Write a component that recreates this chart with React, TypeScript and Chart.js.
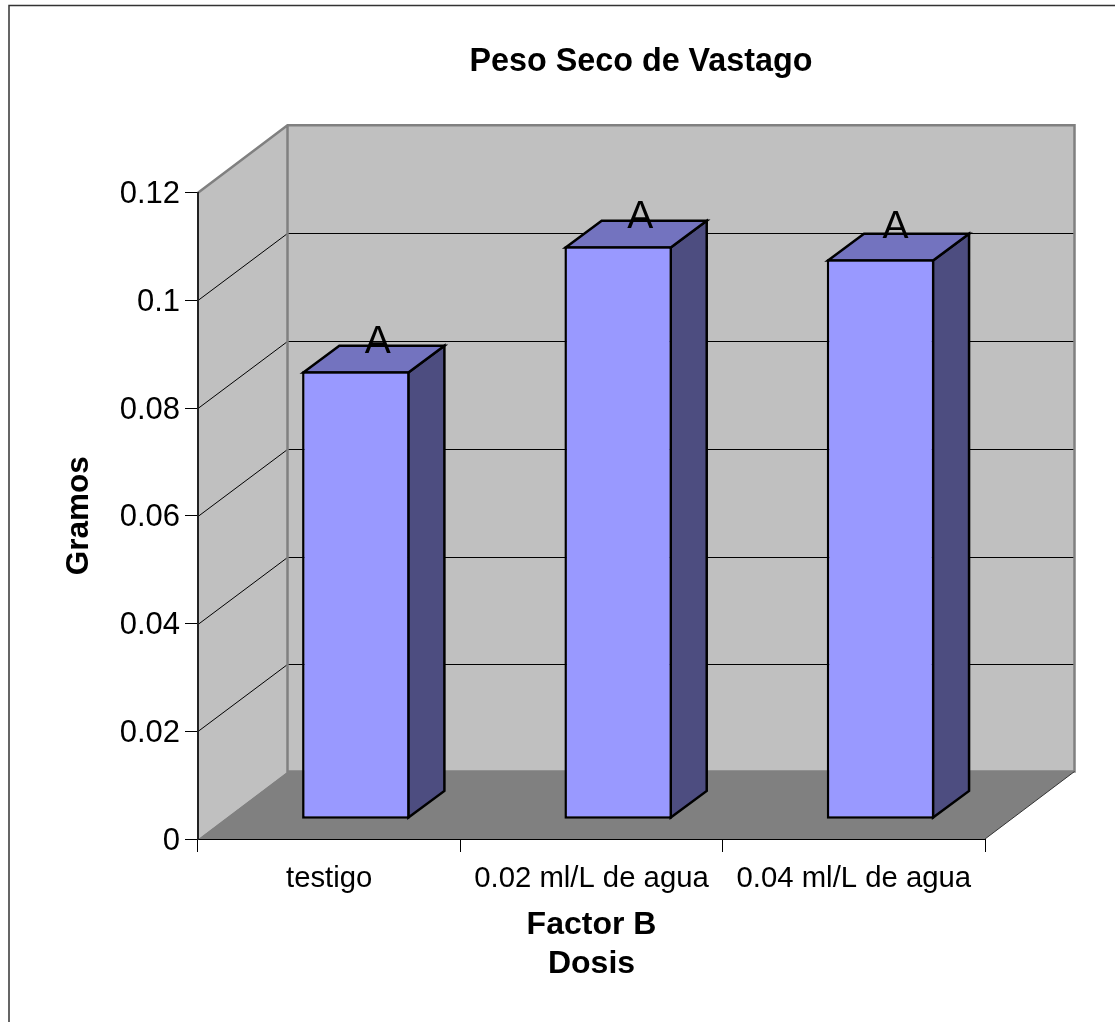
import React, { useEffect, useRef } from "react";
import { Chart, registerables } from "chart.js";

Chart.register(...registerables);

const categories = ["testigo", "0.02 ml/L de agua", "0.04 ml/L de agua"];
const pesoSeco = [0.0832, 0.1064, 0.104];
const letters = ["A", "A", "A"];
const titleText = "Peso Seco de Vastago";
const yTitle = "Gramos";
const xTitle = ["Factor B", "Dosis"];

const FONT = '"Liberation Sans", Arial, sans-serif';
const WALL = "#c0c0c0";
const FLOOR = "#808080";
const EDGE = "#808080";
const FRONT = "#9999ff";
const TOP = "#7373bf";
const SIDE = "#4d4d80";

// 3D projection offsets
const DEPTH_X = 89.5;
const DEPTH_Y = -67.5;
const BAR_SHIFT_X = 26.7;
const BAR_SHIFT_Y = -19.7;
const BAR_DEPTH_X = 36;
const BAR_DEPTH_Y = -26.6;
const BORDER = 2.5;
// where each letter sits relative to the front face of its bar
const letterShiftX = [22, 22, 15];
const letterShiftY = [-19.6, -19, -22.3];

function poly(ctx: CanvasRenderingContext2D, pts: number[][], fill?: string, stroke?: string, lw = 1) {
  ctx.beginPath();
  pts.forEach((p, i) => (i ? ctx.lineTo(p[0], p[1]) : ctx.moveTo(p[0], p[1])));
  ctx.closePath();
  if (fill) {
    ctx.fillStyle = fill;
    ctx.fill();
  }
  if (stroke) {
    ctx.strokeStyle = stroke;
    ctx.lineWidth = lw;
    ctx.lineJoin = "miter";
    ctx.stroke();
  }
}

const walls3d = {
  id: "walls3d",
  beforeDraw(chart: any) {
    const { ctx, chartArea: a, scales } = chart;
    const { left: l, right: r, top: t, bottom: b } = a;
    const dx = DEPTH_X;
    const dy = DEPTH_Y;

    // numeric labels sit level with their ticks
    if (!chart.$labelsShifted) {
      chart.$labelsShifted = true;
      for (const item of scales.y.getLabelItems()) {
        item.options.translation[1] += 2;
      }
    }

    ctx.save();
    // outer frame
    ctx.strokeStyle = "#333333";
    ctx.lineWidth = 1.5;
    ctx.strokeRect(9, 5.5, 1200, 1200);

    // back wall
    poly(ctx, [[l + dx, t + dy], [r + dx, t + dy], [r + dx, b + dy], [l + dx, b + dy]], WALL);
    // left wall
    poly(ctx, [[l, t], [l + dx, t + dy], [l + dx, b + dy], [l, b]], WALL);
    // floor
    poly(ctx, [[l, b], [l + dx, b + dy], [r + dx, b + dy], [r, b]], FLOOR);

    // grid lines
    ctx.strokeStyle = "#000000";
    ctx.lineWidth = 1;
    for (const tick of scales.y.ticks) {
      if (tick.value <= 0 || tick.value >= 0.12) continue;
      const y = Math.round(scales.y.getPixelForValue(tick.value)) + 0.5;
      const yBack = Math.floor(y + dy) + 0.5;
      ctx.beginPath();
      ctx.moveTo(l, y);
      ctx.lineTo(l + dx, yBack);
      ctx.lineTo(r + dx, yBack);
      ctx.stroke();
    }

    // wall edges
    ctx.strokeStyle = EDGE;
    ctx.lineWidth = 2.5;
    ctx.beginPath();
    ctx.moveTo(l, t);
    ctx.lineTo(l + dx, t + dy);
    ctx.lineTo(r + dx, t + dy);
    ctx.lineTo(r + dx, b + dy);
    ctx.lineTo(l + dx, b + dy);
    ctx.lineTo(l + dx, t + dy);
    ctx.stroke();

    ctx.strokeStyle = "#333333";
    ctx.lineWidth = 1;
    ctx.beginPath();
    ctx.moveTo(r, b);
    ctx.lineTo(r + dx, b + dy);
    ctx.stroke();
    ctx.restore();
  },
  beforeDatasetDraw(chart: any, args: any) {
    const { ctx } = chart;
    const meta = chart.getDatasetMeta(args.index);
    ctx.save();
    const inset = BORDER / 2;
    for (const el of meta.data) {
      const hw = el.width / 2 - inset;
      const x0 = el.x - hw + BAR_SHIFT_X;
      const x1 = el.x + hw + BAR_SHIFT_X;
      const yt = el.y + inset + BAR_SHIFT_Y;
      const yb = el.base - inset + BAR_SHIFT_Y;
      const ddx = BAR_DEPTH_X;
      const ddy = BAR_DEPTH_Y;
      poly(ctx, [[x1, yt], [x1 + ddx, yt + ddy], [x1 + ddx, yb + ddy], [x1, yb]], SIDE, "#000000", BORDER);
      poly(ctx, [[x0, yt], [x0 + ddx, yt + ddy], [x1 + ddx, yt + ddy], [x1, yt]], TOP, "#000000", BORDER);
    }
    ctx.restore();
    // the library draws the front faces, moved onto the floor
    ctx.save();
    ctx.translate(BAR_SHIFT_X, BAR_SHIFT_Y);
  },
  afterDatasetDraw(chart: any, args: any) {
    const { ctx } = chart;
    ctx.restore();
    const meta = chart.getDatasetMeta(args.index);
    ctx.save();
    ctx.fillStyle = "#000000";
    ctx.font = `39px ${FONT}`;
    ctx.textAlign = "center";
    ctx.textBaseline = "alphabetic";
    meta.data.forEach((el: any, i: number) => {
      ctx.fillText(
        letters[i],
        el.x + BAR_SHIFT_X + letterShiftX[i],
        el.y + BAR_SHIFT_Y + BORDER / 2 + letterShiftY[i]
      );
    });
    ctx.restore();
  },
  afterLayout(chart: any) {
    // the title sits over the middle of the 3D plot, not of the canvas
    if (chart.titleBlock) {
      chart.titleBlock.left = 167;
      chart.titleBlock.right = 1115;
    }
  },
};

export default function App() {
  const ref = useRef<HTMLCanvasElement>(null);

  useEffect(() => {
    document.body.style.margin = "0";
    const canvas = ref.current;
    if (!canvas) return;
    const chart = new Chart(canvas, {
      type: "bar",
      data: {
        labels: categories,
        datasets: [
          {
            label: "Peso seco",
            data: pesoSeco,
            backgroundColor: FRONT,
            borderColor: "#000000",
            borderWidth: BORDER,
            borderSkipped: false,
            barPercentage: 1,
            categoryPercentage: 0.41,
          },
        ],
      },
      options: {
        responsive: false,
        animation: false,
        events: [],
        layout: { padding: { left: 0, right: 130, top: 0, bottom: 0 } },
        plugins: {
          legend: { display: false },
          tooltip: { enabled: false },
          title: {
            display: true,
            text: titleText,
            color: "#000000",
            font: { family: FONT, size: 32.3, weight: "bold", lineHeight: 1.2 },
            padding: { top: 42.6, bottom: 111.3 },
          },
        },
        scales: {
          x: {
            type: "category",
            offset: true,
            afterFit(scale: any) {
              scale.height = 183;
            },
            border: { display: true, color: "#000000", width: 1 },
            grid: { drawOnChartArea: false, drawTicks: true, tickLength: 13, color: "#000000", offset: true },
            ticks: {
              color: "#000000",
              font: { family: FONT, size: 29.3 },
              padding: 9,
              autoSkip: false,
              maxRotation: 0,
              minRotation: 0,
            },
            title: {
              display: true,
              text: xTitle,
              color: "#000000",
              font: { family: FONT, size: 32, weight: "bold", lineHeight: 1.219 },
              padding: { top: 0, bottom: 38.5 },
            },
          },
          y: {
            type: "linear",
            min: 0,
            max: 0.12,
            afterFit(scale: any) {
              scale.width = 198;
            },
            border: { display: true, color: "#222222", width: 2 },
            grid: { drawOnChartArea: false, drawTicks: true, tickLength: 13, color: "#000000" },
            ticks: {
              stepSize: 0.02,
              color: "#000000",
              font: { family: FONT, size: 31 },
              padding: 5,
              callback: (v: any) => String(Number(Number(v).toFixed(2))),
            },
            title: {
              display: true,
              text: yTitle,
              color: "#000000",
              font: { family: FONT, size: 31.5, weight: "bold", lineHeight: 1.2 },
              padding: { top: 60, bottom: 0 },
            },
          },
        },
      },
      plugins: [walls3d],
    } as any);
    return () => chart.destroy();
  }, []);

  return <canvas ref={ref} width={1115} height={1022} style={{ display: "block" }} />;
}
